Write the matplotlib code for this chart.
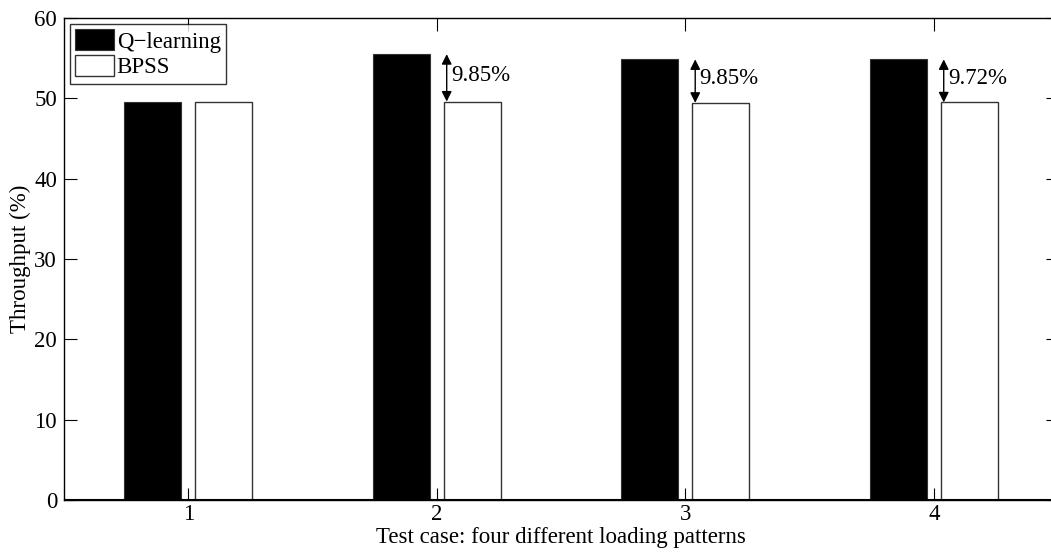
import numpy as np
import matplotlib
matplotlib.use('Agg')
import matplotlib.pyplot as plt

plt.rcParams['font.family'] = ['Liberation Serif', 'DejaVu Serif']

# 数据
cases = [1, 2, 3, 4]
qlearn = [49.6, 55.5, 54.85, 54.85]
bpss = [49.5, 49.6, 49.45, 49.5]
gains = ['', '9.85%', '9.85%', '9.72%']

fs = 16.5

fig = plt.figure(figsize=(10.51, 5.52), dpi=100)
ax = fig.add_axes([0.0609, 0.0942, 0.9458, 0.8732])

x = np.array(cases, dtype=float)
w = 0.23
ax.bar(x - 0.143, qlearn, width=w, color='black', edgecolor='#333333', linewidth=0.8, label='Q\u2212learning')
ax.bar(x + 0.143, bpss, width=w, color='white', edgecolor='#333333', linewidth=1.0, label='BPSS')
ax.axhline(0, color='black', linewidth=1.5)

# 提升百分比的双向箭头
for xi, q, b, g in zip(x, qlearn, bpss, gains):
    if not g:
        continue
    ax.annotate('', xy=(xi + 0.04, q), xytext=(xi + 0.04, b),
                arrowprops=dict(arrowstyle='<|-|>,head_length=0.6,head_width=0.3',
                                color='black', lw=1.0, shrinkA=0, shrinkB=0))
    ax.text(xi + 0.058, (q + b) / 2 + 0.3, g, fontsize=fs, ha='left', va='center')

ax.set_xlim(0.5, 4.5)
ax.set_ylim(0, 60)
ax.set_xticks(cases)
ax.set_yticks(range(0, 61, 10))
ax.tick_params(direction='in', length=9, width=0.8, top=True, right=True, labelsize=fs)
ax.tick_params(axis='x', pad=3)
ax.tick_params(axis='y', pad=5)
for s in ax.spines.values():
    s.set_linewidth(1.0)

ax.set_xlabel('Test case: four different loading patterns', fontsize=fs, labelpad=1)
ax.set_ylabel('Throughput (%)', fontsize=fs, labelpad=2)

leg = ax.legend(loc='upper left', fontsize=fs, frameon=True, fancybox=False,
                edgecolor='black', borderpad=0.25, handlelength=1.7, handleheight=1.0,
                handletextpad=0.1, labelspacing=0.12, borderaxespad=0.25)
leg.get_frame().set_linewidth(1.0)

fig.savefig('out.png', dpi=100)
